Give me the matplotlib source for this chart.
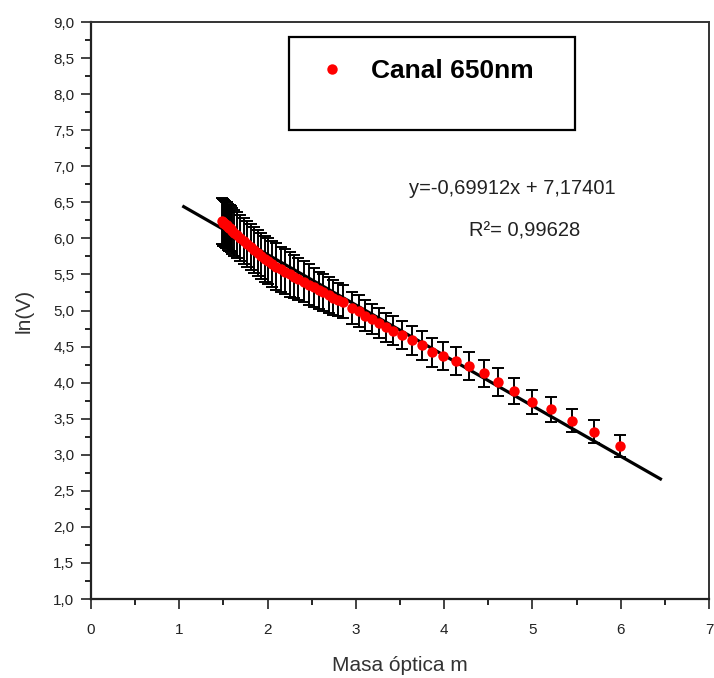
import matplotlib
matplotlib.use('Agg')
import matplotlib.pyplot as plt
import numpy as np
from matplotlib.patches import Rectangle
from matplotlib.ticker import MultipleLocator, FuncFormatter

plt.rcParams['font.family'] = ['Liberation Sans', 'DejaVu Sans']

# optical air mass and ln(V) for the 650 nm channel
masa = [1.48, 1.49, 1.50, 1.51, 1.52, 1.53, 1.54, 1.55, 1.56, 1.57, 1.58, 1.60, 1.62,
        1.65, 1.69, 1.73, 1.77, 1.81, 1.85, 1.89, 1.93, 1.97, 2.01, 2.05, 2.10, 2.15,
        2.20, 2.25, 2.30, 2.35, 2.41, 2.47, 2.52, 2.58, 2.63, 2.69, 2.74, 2.80, 2.85,
        2.96, 3.03, 3.10, 3.18, 3.26, 3.34, 3.42, 3.52, 3.64, 3.75, 3.86, 3.99, 4.13,
        4.28, 4.45, 4.61, 4.79, 4.99, 5.21, 5.45, 5.70, 5.99]
ln_v = [6.24, 6.23, 6.22, 6.21, 6.20, 6.19, 6.18, 6.16, 6.15, 6.14, 6.13, 6.10, 6.08,
        6.05, 6.00, 5.96, 5.92, 5.88, 5.84, 5.80, 5.76, 5.72, 5.69, 5.65, 5.61, 5.57,
        5.54, 5.50, 5.47, 5.44, 5.40, 5.36, 5.32, 5.28, 5.25, 5.21, 5.18, 5.15, 5.12,
        5.03, 4.99, 4.93, 4.88, 4.83, 4.77, 4.72, 4.66, 4.59, 4.52, 4.42, 4.37, 4.30,
        4.23, 4.13, 4.01, 3.88, 3.73, 3.63, 3.47, 3.32, 3.12]
err = [0.32, 0.32, 0.32, 0.32, 0.32, 0.32, 0.32, 0.32, 0.32, 0.32, 0.32, 0.32, 0.32,
       0.32, 0.32, 0.32, 0.32, 0.32, 0.32, 0.32, 0.32, 0.32, 0.32, 0.32, 0.32, 0.31,
       0.31, 0.31, 0.30, 0.29, 0.28, 0.28, 0.27, 0.26, 0.25, 0.25, 0.24, 0.23, 0.23,
       0.22, 0.22, 0.21, 0.21, 0.21, 0.20, 0.20, 0.20, 0.20, 0.20, 0.20, 0.19, 0.19,
       0.19, 0.19, 0.19, 0.18, 0.17, 0.17, 0.16, 0.16, 0.15]

# linear fit reported on the chart
pendiente = -0.69912
ordenada = 7.17401
fit_range = [1.05, 6.45]

fig = plt.figure(figsize=(7.14, 6.78), dpi=100)
ax = fig.add_axes([0.1275, 0.1165, 0.8655, 0.851])

fx = np.array(fit_range)
ax.plot(fx, pendiente * fx + ordenada, color='black', linewidth=2.3, zorder=2)

ax.errorbar(masa, ln_v, yerr=err, fmt='none', ecolor='black', elinewidth=1.4,
            capsize=4, capthick=1.4, zorder=1)
ax.plot(masa, ln_v, 'o', color='red', markersize=7.5, markeredgewidth=0, zorder=3,
        label='Canal 650nm')

ax.set_xlim(0, 7)
ax.set_ylim(1.0, 9.0)
ax.xaxis.set_major_locator(MultipleLocator(1))
ax.xaxis.set_minor_locator(MultipleLocator(0.5))
ax.yaxis.set_major_locator(MultipleLocator(0.5))
ax.yaxis.set_minor_locator(MultipleLocator(0.25))
ax.yaxis.set_major_formatter(FuncFormatter(lambda v, p: f"{v:.1f}".replace('.', ',')))
ax.xaxis.set_major_formatter(FuncFormatter(lambda v, p: f"{v:.0f}"))

ax.tick_params(which='major', direction='out', length=7, width=1.2, labelsize=11,
               colors='#222222', pad=5)
ax.tick_params(axis='x', which='major', pad=10)
ax.tick_params(which='minor', direction='out', length=4, width=1.2)
ax.tick_params(top=False, right=False, which='both')

for side in ['left', 'bottom']:
    ax.spines[side].set_linewidth(1.6)
    ax.spines[side].set_color('#222222')
for side in ['top', 'right']:
    ax.spines[side].set_linewidth(1.4)
    ax.spines[side].set_color('#333333')

ax.set_xlabel('Masa óptica m', fontsize=15, color='#333333', labelpad=14)
ax.set_ylabel('ln(V)', fontsize=15, color='#333333', labelpad=14)

# legend box
ax.add_patch(Rectangle((0.320, 0.813), 0.463, 0.161, transform=ax.transAxes,
                       fill=False, edgecolor='black', linewidth=1.6, zorder=5))
leg = ax.legend(loc='center left', bbox_to_anchor=(0.33, 0.915), frameon=False,
                handlelength=1.0, handletextpad=1.0, markerscale=1.0,
                prop={'weight': 'bold', 'size': 19})

ax.text(0.681, 0.712, 'y=-0,69912x + 7,17401', transform=ax.transAxes,
        ha='center', va='center', fontsize=14.5, color='#222222')
ax.text(0.702, 0.638, 'R²= 0,99628', transform=ax.transAxes,
        ha='center', va='center', fontsize=14.5, color='#222222')

fig.savefig('out.png', dpi=100, facecolor='white')
plt.close()
